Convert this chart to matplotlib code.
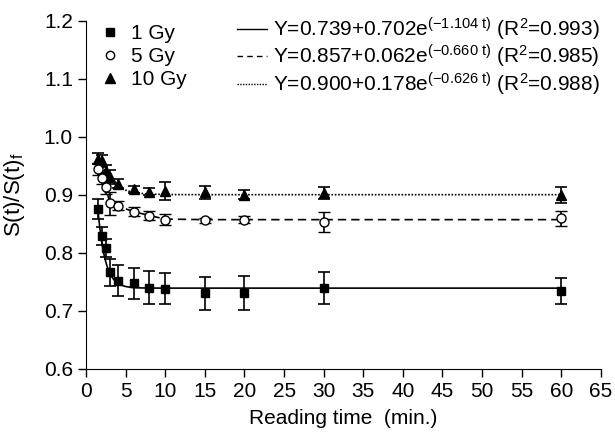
import numpy as np
import matplotlib
matplotlib.use("Agg")
from matplotlib import pyplot as plt
from matplotlib.lines import Line2D

plt.rcParams['font.family'] = ['Liberation Sans', 'DejaVu Sans']
plt.rcParams['mathtext.fontset'] = 'custom'
plt.rcParams['mathtext.rm'] = 'Liberation Sans'
plt.rcParams['mathtext.it'] = 'Liberation Sans:italic'
plt.rcParams['font.size'] = 15

# reading times (min.)
t = [1.5, 2, 2.5, 3, 4, 6, 8, 10, 15, 20, 30, 60]

gy1 = [0.875, 0.829, 0.808, 0.766, 0.752, 0.747, 0.740, 0.738, 0.730, 0.731, 0.739, 0.734]
gy1_err = [0.017, 0.015, 0.015, 0.023, 0.026, 0.027, 0.028, 0.027, 0.028, 0.029, 0.027, 0.023]
gy5 = [0.944, 0.929, 0.914, 0.885, 0.881, 0.871, 0.864, 0.857, 0.856, 0.857, 0.853, 0.859]
gy5_err = [0.010, 0.010, 0.012, 0.020, 0.008, 0.008, 0.008, 0.010, 0.004, 0.006, 0.018, 0.013]
gy10 = [0.962, 0.958, 0.940, 0.931, 0.919, 0.909, 0.905, 0.906, 0.904, 0.900, 0.903, 0.900]
gy10_err = [0.009, 0.010, 0.012, 0.012, 0.008, 0.006, 0.006, 0.016, 0.011, 0.008, 0.011, 0.014]

# fit parameters Y = a + b*exp(-c t), R^2
fit_a = [0.739, 0.857, 0.900]
fit_b = [0.702, 0.062, 0.178]
fit_c = [1.104, 0.660, 0.626]
fit_r2 = [0.993, 0.985, 0.988]

# drawn 5 Gy curve
curve5_t = [1.5, 2, 2.5, 3, 4, 6, 8, 10, 15, 60]
curve5_y = [0.944, 0.929, 0.914, 0.885, 0.880, 0.871, 0.864, 0.858, 0.857, 0.857]

fig = plt.figure(figsize=(6.15, 4.38), dpi=100)
ax = fig.add_axes([0.140, 0.158, 0.837, 0.795])

tt = np.linspace(1.5, 60, 600)
y1 = fit_a[0] + fit_b[0] * np.exp(-fit_c[0] * tt)
y10 = fit_a[2] + fit_b[2] * np.exp(-fit_c[2] * tt)
ax.plot(tt, y1, 'k-', lw=1.2)
ax.plot(curve5_t, curve5_y, 'k', ls=(0, (5, 3)), lw=1.2)
ax.plot(tt, y10, 'k', ls=(0, (1, 1)), lw=1.2)

ebkw = dict(color='k', ecolor='k', elinewidth=1.2, capsize=4.5, capthick=1.2, ls='none')
ax.errorbar(t, gy10, yerr=gy10_err, marker='^', ms=7.5, mfc='k', mec='k', **ebkw)
ax.errorbar(t, gy5, yerr=gy5_err, marker='o', ms=6.5, mfc='white', mec='k', mew=1.0, **ebkw)
ax.errorbar(t, gy1, yerr=gy1_err, marker='s', ms=6, mfc='k', mec='k', **ebkw)

ax.set_xlim(0, 65)
ax.set_ylim(0.6, 1.2)
ax.set_xticks(range(0, 70, 5))
ax.set_yticks([0.6, 0.7, 0.8, 0.9, 1.0, 1.1, 1.2])
ax.set_yticklabels(['0.6', '0.7', '0.8', '0.9', '1.0', '1.1', '1.2'])
ax.spines['top'].set_visible(False)
ax.spines['right'].set_visible(False)
ax.tick_params(direction='out', length=6, width=1, labelsize=15)
ax.set_xlabel("Reading time  (min.)", fontsize=15, labelpad=6)
ax.set_ylabel(r"S(t)/S(t)$_\mathregular{f}$", fontsize=16, labelpad=12)

mk_handles = [Line2D([], [], ls='none', marker='s', ms=6, color='k'),
              Line2D([], [], ls='none', marker='o', ms=6, mfc='white', mec='k'),
              Line2D([], [], ls='none', marker='^', ms=7.5, color='k')]
leg1 = fig.legend(mk_handles, ['1 Gy', '5 Gy', '10 Gy'], loc='upper left',
                  bbox_to_anchor=(0.166, 0.945), frameon=False, handlelength=0.8,
                  handletextpad=0.6, labelspacing=0.2, borderpad=0, borderaxespad=0,
                  fontsize=15)

fit_handles = [Line2D([], [], color='k', lw=1.0),
               Line2D([], [], color='k', lw=1.0, ls=(0, (4, 3))),
               Line2D([], [], color='k', lw=1.0, ls=(0, (1, 1)))]
fit_labels = []
for a, b, c, r in zip(fit_a, fit_b, fit_c, fit_r2):
    fit_labels.append(r"Y=%.3f+%.3fe$^{(-%.3f\ \mathrm{t})}$ (R$^2$=%.3f)" % (a, b, c, r))
leg2 = fig.legend(fit_handles, fit_labels, loc='upper left',
                  bbox_to_anchor=(0.385, 0.965), frameon=False, handlelength=1.45,
                  handletextpad=0.3, labelspacing=0.02, borderpad=0, borderaxespad=0,
                  fontsize=15)

fig.savefig("out.png", dpi=100)
